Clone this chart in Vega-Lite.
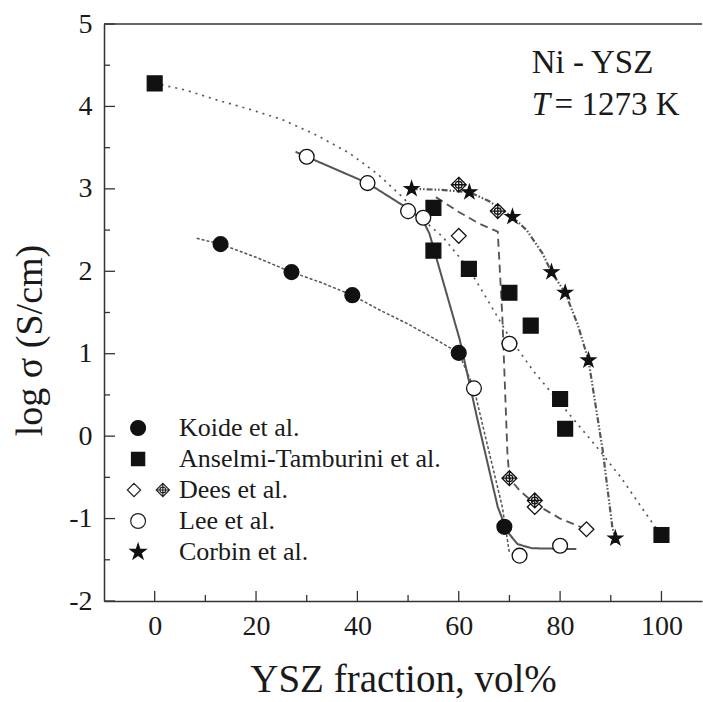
{
  "$schema": "https://vega.github.io/schema/vega-lite/v6.json",
  "width": 598,
  "height": 577,
  "autosize": {"type": "none"},
  "padding": {"left": 104, "top": 24, "right": 1, "bottom": 101},
  "background": "white",
  "config": {
    "view": {"stroke": null},
    "font": "Liberation Serif",
    "axis": {
      "grid": false,
      "ticks": false,
      "domainColor": "#333333",
      "domainWidth": 1.5,
      "labelFont": "Liberation Serif",
      "labelFontSize": 28,
      "labelColor": "#1a1a1a",
      "titleFont": "Liberation Serif",
      "titleFontWeight": "normal",
      "titleColor": "#1a1a1a",
      "labelFlush": false
    }
  },
  "datasets": {
    "yMajor": [{"v": -2}, {"v": -1}, {"v": 0}, {"v": 1}, {"v": 2}, {"v": 3}, {"v": 4}, {"v": 5}],
    "yMinor": [{"v": -1.5}, {"v": -0.5}, {"v": 0.5}, {"v": 1.5}, {"v": 2.5}, {"v": 3.5}, {"v": 4.5}],
    "xMajor": [{"v": 0}, {"v": 20}, {"v": 40}, {"v": 60}, {"v": 80}, {"v": 100}],
    "xMinor": [{"v": 10}, {"v": 30}, {"v": 50}, {"v": 70}, {"v": 90}],
    "points": [
      {"series": "Koide et al.", "sym": "kc", "x": 13, "y": 2.33},
      {"series": "Koide et al.", "sym": "kc", "x": 27, "y": 1.99},
      {"series": "Koide et al.", "sym": "kc", "x": 39, "y": 1.71},
      {"series": "Koide et al.", "sym": "kc", "x": 60, "y": 1.01},
      {"series": "Koide et al.", "sym": "kc", "x": 69, "y": -1.10},
      {"series": "Anselmi-Tamburini et al.", "sym": "as", "x": 0, "y": 4.28},
      {"series": "Anselmi-Tamburini et al.", "sym": "as", "x": 55, "y": 2.77},
      {"series": "Anselmi-Tamburini et al.", "sym": "as", "x": 55, "y": 2.25},
      {"series": "Anselmi-Tamburini et al.", "sym": "as", "x": 62, "y": 2.03},
      {"series": "Anselmi-Tamburini et al.", "sym": "as", "x": 70, "y": 1.74},
      {"series": "Anselmi-Tamburini et al.", "sym": "as", "x": 74.2, "y": 1.34},
      {"series": "Anselmi-Tamburini et al.", "sym": "as", "x": 80, "y": 0.45},
      {"series": "Anselmi-Tamburini et al.", "sym": "as", "x": 81, "y": 0.09},
      {"series": "Anselmi-Tamburini et al.", "sym": "as", "x": 100, "y": -1.20},
      {"series": "Dees et al.", "sym": "do", "x": 50, "y": 2.73},
      {"series": "Dees et al.", "sym": "do", "x": 60, "y": 2.43},
      {"series": "Dees et al.", "sym": "do", "x": 70, "y": 1.12},
      {"series": "Dees et al.", "sym": "do", "x": 75, "y": -0.86},
      {"series": "Dees et al.", "sym": "do", "x": 85.2, "y": -1.13},
      {"series": "Dees et al.", "sym": "dc", "x": 60, "y": 3.05},
      {"series": "Dees et al.", "sym": "dc", "x": 67.7, "y": 2.73},
      {"series": "Dees et al.", "sym": "dc", "x": 70, "y": -0.51},
      {"series": "Dees et al.", "sym": "dc", "x": 75, "y": -0.78},
      {"series": "Lee et al.", "sym": "lc", "x": 30, "y": 3.39},
      {"series": "Lee et al.", "sym": "lc", "x": 42, "y": 3.07},
      {"series": "Lee et al.", "sym": "lc", "x": 50, "y": 2.73},
      {"series": "Lee et al.", "sym": "lc", "x": 53, "y": 2.65},
      {"series": "Lee et al.", "sym": "lc", "x": 63, "y": 0.58},
      {"series": "Lee et al.", "sym": "lc", "x": 70, "y": 1.12},
      {"series": "Lee et al.", "sym": "lc", "x": 72, "y": -1.45},
      {"series": "Lee et al.", "sym": "lc", "x": 80, "y": -1.33},
      {"series": "Corbin et al.", "sym": "cs", "x": 50.7, "y": 3.0},
      {"series": "Corbin et al.", "sym": "cs", "x": 62.1, "y": 2.96},
      {"series": "Corbin et al.", "sym": "cs", "x": 70.6, "y": 2.66},
      {"series": "Corbin et al.", "sym": "cs", "x": 78.3, "y": 1.99},
      {"series": "Corbin et al.", "sym": "cs", "x": 81, "y": 1.74},
      {"series": "Corbin et al.", "sym": "cs", "x": 85.6, "y": 0.92},
      {"series": "Corbin et al.", "sym": "cs", "x": 90.9, "y": -1.24}
    ],
    "curves": [
      {"series": "Koide et al.", "x": 8.3, "y": 2.40},
      {"series": "Koide et al.", "x": 13, "y": 2.33},
      {"series": "Koide et al.", "x": 20, "y": 2.17},
      {"series": "Koide et al.", "x": 27, "y": 1.99},
      {"series": "Koide et al.", "x": 33, "y": 1.86},
      {"series": "Koide et al.", "x": 39, "y": 1.71},
      {"series": "Koide et al.", "x": 44.4, "y": 1.53},
      {"series": "Koide et al.", "x": 50, "y": 1.36},
      {"series": "Koide et al.", "x": 55, "y": 1.19},
      {"series": "Koide et al.", "x": 60, "y": 1.01},
      {"series": "Koide et al.", "x": 63, "y": 0.58},
      {"series": "Koide et al.", "x": 65, "y": 0.06},
      {"series": "Koide et al.", "x": 68.6, "y": -0.86},
      {"series": "Koide et al.", "x": 69.6, "y": -1.26},
      {"series": "Koide et al.", "x": 70, "y": -1.42},
      {"series": "Anselmi-Tamburini et al.", "x": 0, "y": 4.28},
      {"series": "Anselmi-Tamburini et al.", "x": 6, "y": 4.2},
      {"series": "Anselmi-Tamburini et al.", "x": 12.2, "y": 4.08},
      {"series": "Anselmi-Tamburini et al.", "x": 18.5, "y": 3.97},
      {"series": "Anselmi-Tamburini et al.", "x": 25.2, "y": 3.84},
      {"series": "Anselmi-Tamburini et al.", "x": 32, "y": 3.65},
      {"series": "Anselmi-Tamburini et al.", "x": 38.5, "y": 3.43},
      {"series": "Anselmi-Tamburini et al.", "x": 44, "y": 3.18},
      {"series": "Anselmi-Tamburini et al.", "x": 48.9, "y": 2.9},
      {"series": "Anselmi-Tamburini et al.", "x": 53.6, "y": 2.59},
      {"series": "Anselmi-Tamburini et al.", "x": 56.8, "y": 2.42},
      {"series": "Anselmi-Tamburini et al.", "x": 62, "y": 2.03},
      {"series": "Anselmi-Tamburini et al.", "x": 66, "y": 1.62},
      {"series": "Anselmi-Tamburini et al.", "x": 70, "y": 1.2},
      {"series": "Anselmi-Tamburini et al.", "x": 74.6, "y": 0.8},
      {"series": "Anselmi-Tamburini et al.", "x": 80, "y": 0.4},
      {"series": "Anselmi-Tamburini et al.", "x": 87.2, "y": -0.13},
      {"series": "Anselmi-Tamburini et al.", "x": 92, "y": -0.5},
      {"series": "Anselmi-Tamburini et al.", "x": 97.6, "y": -1.0},
      {"series": "Anselmi-Tamburini et al.", "x": 100, "y": -1.2},
      {"series": "Dees et al.", "x": 55.5, "y": 2.9},
      {"series": "Dees et al.", "x": 60, "y": 2.72},
      {"series": "Dees et al.", "x": 64, "y": 2.58},
      {"series": "Dees et al.", "x": 67.7, "y": 2.48},
      {"series": "Dees et al.", "x": 68.6, "y": 1.45},
      {"series": "Dees et al.", "x": 69.6, "y": -0.2},
      {"series": "Dees et al.", "x": 70, "y": -0.51},
      {"series": "Dees et al.", "x": 72, "y": -0.66},
      {"series": "Dees et al.", "x": 75, "y": -0.82},
      {"series": "Dees et al.", "x": 80, "y": -1.0},
      {"series": "Dees et al.", "x": 85.2, "y": -1.13},
      {"series": "Lee et al.", "x": 27.8, "y": 3.45},
      {"series": "Lee et al.", "x": 30, "y": 3.39},
      {"series": "Lee et al.", "x": 42, "y": 3.07},
      {"series": "Lee et al.", "x": 50, "y": 2.76},
      {"series": "Lee et al.", "x": 52.9, "y": 2.62},
      {"series": "Lee et al.", "x": 54.2, "y": 2.46},
      {"series": "Lee et al.", "x": 60.2, "y": 1.17},
      {"series": "Lee et al.", "x": 63.7, "y": 0.2},
      {"series": "Lee et al.", "x": 67.7, "y": -0.86},
      {"series": "Lee et al.", "x": 69.6, "y": -1.16},
      {"series": "Lee et al.", "x": 71.6, "y": -1.31},
      {"series": "Lee et al.", "x": 74.4, "y": -1.36},
      {"series": "Lee et al.", "x": 83.2, "y": -1.37},
      {"series": "Corbin et al.", "x": 50.7, "y": 3.0},
      {"series": "Corbin et al.", "x": 56, "y": 2.99},
      {"series": "Corbin et al.", "x": 62.1, "y": 2.96},
      {"series": "Corbin et al.", "x": 66, "y": 2.85},
      {"series": "Corbin et al.", "x": 70.6, "y": 2.66},
      {"series": "Corbin et al.", "x": 73.4, "y": 2.5},
      {"series": "Corbin et al.", "x": 76.5, "y": 2.22},
      {"series": "Corbin et al.", "x": 78.3, "y": 1.99},
      {"series": "Corbin et al.", "x": 81, "y": 1.74},
      {"series": "Corbin et al.", "x": 83.5, "y": 1.35},
      {"series": "Corbin et al.", "x": 85.6, "y": 0.92},
      {"series": "Corbin et al.", "x": 88.4, "y": -0.17},
      {"series": "Corbin et al.", "x": 90.3, "y": -1.1},
      {"series": "Corbin et al.", "x": 90.9, "y": -1.24}
    ]
  },
  "layer": [
    {
      "data": {"name": "curves"},
      "mark": {"type": "line", "color": "#555555"},
      "encoding": {
        "x": {
          "field": "x", "type": "quantitative",
          "scale": {"domain": [-10, 108], "nice": false, "zero": false},
          "axis": {"title": "YSZ fraction, vol%", "titleFontSize": 39, "titlePadding": 20, "values": [0, 20, 40, 60, 80, 100], "labelExpr": "'' + datum.value", "labelPadding": 11}
        },
        "y": {
          "field": "y", "type": "quantitative",
          "scale": {"domain": [-2, 5], "nice": false, "zero": false},
          "axis": {"title": "log σ (S/cm)", "titleFontSize": 38, "titlePadding": 19, "titleY": 316, "values": [-2, -1, 0, 1, 2, 3, 4, 5], "labelExpr": "'' + datum.value", "labelPadding": 12}
        },
        "detail": {"field": "series"},
        "strokeDash": {
          "field": "series", "type": "nominal",
          "scale": {
            "domain": ["Koide et al.", "Anselmi-Tamburini et al.", "Dees et al.", "Lee et al.", "Corbin et al."],
            "range": [[3, 2], [2, 5], [8, 5], [1, 0], [6, 2, 1.5, 2, 1.5, 2]]
          },
          "legend": null
        },
        "strokeWidth": {
          "field": "series", "type": "ordinal",
          "scale": {
            "domain": ["Koide et al.", "Anselmi-Tamburini et al.", "Dees et al.", "Lee et al.", "Corbin et al."],
            "range": [1.5, 2.2, 1.5, 1.4, 1.4]
          },
          "legend": null
        }
      }
    },
    {
      "data": {"values": [{"k": 1}]},
      "mark": {"type": "rule", "color": "#333333", "strokeWidth": 1.5},
      "encoding": {
        "y": {
          "datum": 5, "type": "quantitative",
          "scale": {"domain": [-2, 5], "nice": false, "zero": false},
          "axis": {"title": "log σ (S/cm)", "titleFontSize": 38, "titlePadding": 19, "titleY": 316, "values": [-2, -1, 0, 1, 2, 3, 4, 5], "labelExpr": "'' + datum.value", "labelPadding": 12}
        }
      }
    },
    {
      "data": {"name": "yMajor"},
      "mark": {"type": "rule", "color": "#333333", "strokeWidth": 1.3},
      "encoding": {
        "y": {
          "field": "v", "type": "quantitative",
          "scale": {"domain": [-2, 5], "nice": false, "zero": false},
          "axis": {"title": "log σ (S/cm)", "titleFontSize": 38, "titlePadding": 19, "titleY": 316, "values": [-2, -1, 0, 1, 2, 3, 4, 5], "labelExpr": "'' + datum.value", "labelPadding": 12}
        },
        "x": {
          "datum": -10, "type": "quantitative",
          "scale": {"domain": [-10, 108], "nice": false, "zero": false},
          "axis": {"title": "YSZ fraction, vol%", "titleFontSize": 39, "titlePadding": 20, "values": [0, 20, 40, 60, 80, 100], "labelExpr": "'' + datum.value", "labelPadding": 11}
        },
        "x2": {"datum": -7.83}
      }
    },
    {
      "data": {"name": "yMinor"},
      "mark": {"type": "rule", "color": "#333333", "strokeWidth": 1.3},
      "encoding": {
        "y": {
          "field": "v", "type": "quantitative",
          "scale": {"domain": [-2, 5], "nice": false, "zero": false},
          "axis": {"title": "log σ (S/cm)", "titleFontSize": 38, "titlePadding": 19, "titleY": 316, "values": [-2, -1, 0, 1, 2, 3, 4, 5], "labelExpr": "'' + datum.value", "labelPadding": 12}
        },
        "x": {
          "datum": -10, "type": "quantitative",
          "scale": {"domain": [-10, 108], "nice": false, "zero": false},
          "axis": {"title": "YSZ fraction, vol%", "titleFontSize": 39, "titlePadding": 20, "values": [0, 20, 40, 60, 80, 100], "labelExpr": "'' + datum.value", "labelPadding": 11}
        },
        "x2": {"datum": -8.82}
      }
    },
    {
      "data": {"name": "xMajor"},
      "mark": {"type": "rule", "color": "#333333", "strokeWidth": 1.3},
      "encoding": {
        "x": {
          "field": "v", "type": "quantitative",
          "scale": {"domain": [-10, 108], "nice": false, "zero": false},
          "axis": {"title": "YSZ fraction, vol%", "titleFontSize": 39, "titlePadding": 20, "values": [0, 20, 40, 60, 80, 100], "labelExpr": "'' + datum.value", "labelPadding": 11}
        },
        "y": {
          "datum": -2, "type": "quantitative",
          "scale": {"domain": [-2, 5], "nice": false, "zero": false},
          "axis": {"title": "log σ (S/cm)", "titleFontSize": 38, "titlePadding": 19, "titleY": 316, "values": [-2, -1, 0, 1, 2, 3, 4, 5], "labelExpr": "'' + datum.value", "labelPadding": 12}
        },
        "y2": {"datum": -1.879}
      }
    },
    {
      "data": {"name": "xMinor"},
      "mark": {"type": "rule", "color": "#333333", "strokeWidth": 1.3},
      "encoding": {
        "x": {
          "field": "v", "type": "quantitative",
          "scale": {"domain": [-10, 108], "nice": false, "zero": false},
          "axis": {"title": "YSZ fraction, vol%", "titleFontSize": 39, "titlePadding": 20, "values": [0, 20, 40, 60, 80, 100], "labelExpr": "'' + datum.value", "labelPadding": 11}
        },
        "y": {
          "datum": -2, "type": "quantitative",
          "scale": {"domain": [-2, 5], "nice": false, "zero": false},
          "axis": {"title": "log σ (S/cm)", "titleFontSize": 38, "titlePadding": 19, "titleY": 316, "values": [-2, -1, 0, 1, 2, 3, 4, 5], "labelExpr": "'' + datum.value", "labelPadding": 12}
        },
        "y2": {"datum": -1.927}
      }
    },
    {
      "data": {"name": "points"},
      "mark": {"type": "point", "filled": false, "stroke": "#111111", "strokeWidth": 1.3, "size": 220, "opacity": 1},
      "encoding": {
        "x": {
          "field": "x", "type": "quantitative",
          "scale": {"domain": [-10, 108], "nice": false, "zero": false},
          "axis": {"title": "YSZ fraction, vol%", "titleFontSize": 39, "titlePadding": 20, "values": [0, 20, 40, 60, 80, 100], "labelExpr": "'' + datum.value", "labelPadding": 11}
        },
        "y": {
          "field": "y", "type": "quantitative",
          "scale": {"domain": [-2, 5], "nice": false, "zero": false},
          "axis": {"title": "log σ (S/cm)", "titleFontSize": 38, "titlePadding": 19, "titleY": 316, "values": [-2, -1, 0, 1, 2, 3, 4, 5], "labelExpr": "'' + datum.value", "labelPadding": 12}
        },
        "shape": {
          "field": "sym", "type": "nominal",
          "scale": {
            "domain": ["kc", "as", "do", "dc", "lc", "cs"],
            "range": ["circle", "square", "diamond", "M0,-1L1,0L0,1L-1,0Z M0,-1L0,1 M-1,0L1,0 M-0.45,0A0.45,0.45,0,1,0,0.45,0A0.45,0.45,0,1,0,-0.45,0Z", "circle", "M0,-1L0.2245,-0.309L0.951,-0.309L0.3633,0.118L0.5878,0.809L0,0.382L-0.5878,0.809L-0.3633,0.118L-0.951,-0.309L-0.2245,-0.309Z"]
          },
          "legend": null
        },
        "fill": {
          "field": "sym", "type": "nominal",
          "scale": {
            "domain": ["kc", "as", "do", "dc", "lc", "cs"],
            "range": ["#111111", "#111111", "white", "white", "white", "#111111"]
          },
          "legend": null
        }
      }
    },
    {
      "data": {"name": "points"},
      "transform": [{"filter": "datum.x > 1000"}],
      "mark": {"type": "point", "filled": false, "strokeWidth": 1.2},
      "encoding": {
        "x": {
          "field": "x", "type": "quantitative",
          "scale": {"domain": [-10, 108], "nice": false, "zero": false},
          "axis": {"title": "YSZ fraction, vol%", "titleFontSize": 39, "titlePadding": 20, "values": [0, 20, 40, 60, 80, 100], "labelExpr": "'' + datum.value", "labelPadding": 11}
        },
        "y": {
          "field": "y", "type": "quantitative",
          "scale": {"domain": [-2, 5], "nice": false, "zero": false},
          "axis": {"title": "log σ (S/cm)", "titleFontSize": 38, "titlePadding": 19, "titleY": 316, "values": [-2, -1, 0, 1, 2, 3, 4, 5], "labelExpr": "'' + datum.value", "labelPadding": 12}
        },
        "shape": {
          "field": "series", "type": "nominal",
          "scale": {
            "domain": ["Koide et al.", "Anselmi-Tamburini et al.", "Dees et al.", "Lee et al.", "Corbin et al."],
            "range": [
              "M-1.05,0A0.45,0.45,0,1,0,-0.15,0A0.45,0.45,0,1,0,-1.05,0Z",
              "M-1,-0.4L-0.2,-0.4L-0.2,0.4L-1,0.4Z",
              "M-0.85,-0.4L-0.45,0L-0.85,0.4L-1.25,0Z M0.9,-0.4L1.3,0L0.9,0.4L0.5,0Z M0.9,-0.4L0.9,0.4 M0.5,0L1.3,0 M0.72,0A0.18,0.18,0,1,0,1.08,0A0.18,0.18,0,1,0,0.72,0Z",
              "M-1.05,0A0.45,0.45,0,1,0,-0.15,0A0.45,0.45,0,1,0,-1.05,0Z",
              "M-0.6,-0.5L-0.488,-0.155L-0.125,-0.155L-0.418,0.059L-0.306,0.405L-0.6,0.191L-0.894,0.405L-0.782,0.059L-1.076,-0.155L-0.712,-0.155Z"
            ]
          },
          "legend": {
            "orient": "none", "legendX": 26.5, "legendY": 386.5, "title": null,
            "labelFont": "Liberation Serif", "labelFontSize": 26, "labelColor": "#1a1a1a",
            "symbolSize": 1089, "labelOffset": 13.5, "rowPadding": 0, "labelLimit": 500,
            "symbolStrokeWidth": 1.2, "symbolOpacity": 1, "padding": 0
          }
        },
        "fill": {
          "field": "series", "type": "nominal",
          "scale": {
            "domain": ["Koide et al.", "Anselmi-Tamburini et al.", "Dees et al.", "Lee et al.", "Corbin et al."],
            "range": ["#111111", "#111111", "white", "white", "#111111"]
          },
          "legend": {
            "orient": "none", "legendX": 26.5, "legendY": 386.5, "title": null,
            "labelFont": "Liberation Serif", "labelFontSize": 26, "labelColor": "#1a1a1a",
            "symbolSize": 1089, "labelOffset": 13.5, "rowPadding": 0, "labelLimit": 500,
            "symbolStrokeWidth": 1.2, "symbolOpacity": 1, "padding": 0
          }
        },
        "stroke": {
          "field": "series", "type": "nominal",
          "scale": {
            "domain": ["Koide et al.", "Anselmi-Tamburini et al.", "Dees et al.", "Lee et al.", "Corbin et al."],
            "range": ["#111111", "#111111", "#222222", "#222222", "#111111"]
          },
          "legend": {
            "orient": "none", "legendX": 26.5, "legendY": 386.5, "title": null,
            "labelFont": "Liberation Serif", "labelFontSize": 26, "labelColor": "#1a1a1a",
            "symbolSize": 1089, "labelOffset": 13.5, "rowPadding": 0, "labelLimit": 500,
            "symbolStrokeWidth": 1.2, "symbolOpacity": 1, "padding": 0
          }
        }
      }
    },
    {
      "data": {"values": [{"label": "Ni - YSZ"}]},
      "mark": {"type": "text", "align": "left", "baseline": "alphabetic", "font": "Liberation Serif", "fontSize": 33, "color": "#1a1a1a"},
      "encoding": {
        "x": {
          "datum": 74.4, "type": "quantitative",
          "scale": {"domain": [-10, 108], "nice": false, "zero": false},
          "axis": {"title": "YSZ fraction, vol%", "titleFontSize": 39, "titlePadding": 20, "values": [0, 20, 40, 60, 80, 100], "labelExpr": "'' + datum.value", "labelPadding": 11}
        },
        "y": {
          "datum": 4.41, "type": "quantitative",
          "scale": {"domain": [-2, 5], "nice": false, "zero": false},
          "axis": {"title": "log σ (S/cm)", "titleFontSize": 38, "titlePadding": 19, "titleY": 316, "values": [-2, -1, 0, 1, 2, 3, 4, 5], "labelExpr": "'' + datum.value", "labelPadding": 12}
        },
        "text": {"field": "label"}
      }
    },
    {
      "data": {"values": [{"label": "T"}]},
      "mark": {"type": "text", "align": "left", "baseline": "alphabetic", "font": "Liberation Serif", "fontSize": 33, "fontStyle": "italic", "color": "#1a1a1a"},
      "encoding": {
        "x": {
          "datum": 74.4, "type": "quantitative",
          "scale": {"domain": [-10, 108], "nice": false, "zero": false},
          "axis": {"title": "YSZ fraction, vol%", "titleFontSize": 39, "titlePadding": 20, "values": [0, 20, 40, 60, 80, 100], "labelExpr": "'' + datum.value", "labelPadding": 11}
        },
        "y": {
          "datum": 3.9, "type": "quantitative",
          "scale": {"domain": [-2, 5], "nice": false, "zero": false},
          "axis": {"title": "log σ (S/cm)", "titleFontSize": 38, "titlePadding": 19, "titleY": 316, "values": [-2, -1, 0, 1, 2, 3, 4, 5], "labelExpr": "'' + datum.value", "labelPadding": 12}
        },
        "text": {"field": "label"}
      }
    },
    {
      "data": {"values": [{"label": "= 1273 K"}]},
      "mark": {"type": "text", "align": "left", "baseline": "alphabetic", "font": "Liberation Serif", "fontSize": 33, "color": "#1a1a1a"},
      "encoding": {
        "x": {
          "datum": 78.9, "type": "quantitative",
          "scale": {"domain": [-10, 108], "nice": false, "zero": false},
          "axis": {"title": "YSZ fraction, vol%", "titleFontSize": 39, "titlePadding": 20, "values": [0, 20, 40, 60, 80, 100], "labelExpr": "'' + datum.value", "labelPadding": 11}
        },
        "y": {
          "datum": 3.9, "type": "quantitative",
          "scale": {"domain": [-2, 5], "nice": false, "zero": false},
          "axis": {"title": "log σ (S/cm)", "titleFontSize": 38, "titlePadding": 19, "titleY": 316, "values": [-2, -1, 0, 1, 2, 3, 4, 5], "labelExpr": "'' + datum.value", "labelPadding": 12}
        },
        "text": {"field": "label"}
      }
    }
  ],
  "resolve": {"scale": {"shape": "independent", "fill": "independent", "stroke": "independent"}}
}
